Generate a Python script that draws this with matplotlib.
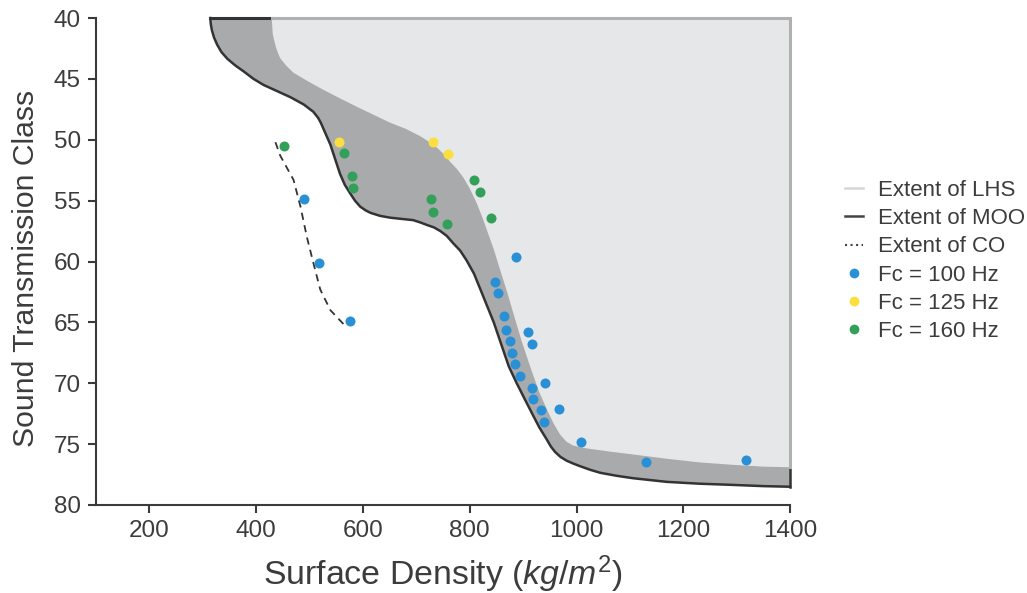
import matplotlib
matplotlib.use("Agg")
import matplotlib.pyplot as plt
from matplotlib.lines import Line2D

plt.rcParams['font.family'] = ['Liberation Sans', 'DejaVu Sans']
plt.rcParams['mathtext.fontset'] = 'custom'
plt.rcParams['mathtext.rm'] = 'Liberation Sans'
plt.rcParams['mathtext.it'] = 'Liberation Sans:italic'

# boundary of the MOO region (surface density, STC)
moo_x = [314, 315, 317, 321, 327, 335, 346, 361, 377, 395, 414, 439, 464, 489, 507, 516,
         521, 526, 532, 539, 548, 557, 566, 576, 585, 595, 605, 614, 632, 651, 672, 694,
         708, 720, 733, 745, 757, 769, 782, 794, 808, 821, 833, 845, 859, 873, 888, 903,
         917, 930, 944, 952, 960, 970, 981, 994, 1006, 1025, 1044, 1075, 1106, 1169, 1230,
         1293, 1350, 1400]
moo_y = [40.0, 40.5, 41.0, 41.6, 42.2, 42.8, 43.35, 43.9, 44.4, 45.0, 45.5, 46.0, 46.5,
         47.1, 47.7, 48.2, 48.6, 49.1, 49.7, 50.4, 51.6, 52.8, 53.7, 54.4, 55.0, 55.5,
         55.8, 56.0, 56.25, 56.4, 56.5, 56.6, 56.8, 57.0, 57.2, 57.5, 57.9, 58.5, 59.1,
         59.9, 61.0, 62.4, 63.7, 65.0, 66.8, 68.6, 70.0, 71.3, 72.5, 73.6, 74.6, 75.2,
         75.65, 76.05, 76.35, 76.6, 76.8, 77.1, 77.35, 77.6, 77.8, 78.1, 78.25, 78.35,
         78.45, 78.5]

# boundary of the LHS region
lhs_x = [429, 430, 431, 434, 437, 441, 445, 456, 470, 497, 526, 557, 589, 620, 651, 680,
         707, 725, 740, 752, 763, 776, 788, 800, 813, 823, 832, 845, 857, 870, 882, 897,
         913, 929, 944, 957, 969, 981, 993, 1006, 1019, 1060, 1106, 1169, 1230, 1293,
         1350, 1400]
lhs_y = [40.0, 40.6, 41.3, 41.9, 42.4, 42.9, 43.3, 43.9, 44.5, 45.2, 45.9, 46.6, 47.3,
         47.95, 48.6, 49.1, 49.7, 50.2, 50.7, 51.2, 51.8, 52.4, 53.1, 54.0, 55.2, 56.3,
         57.4, 59.0, 60.7, 62.5, 64.3, 66.5, 68.6, 70.6, 72.1, 73.3, 74.2, 74.8, 75.1,
         75.25, 75.35, 75.6, 75.85, 76.2, 76.5, 76.7, 76.85, 76.9]

# extent of CO
co_x = [436, 445, 470, 483, 495, 507, 520, 539, 567]
co_y = [50.2, 51.3, 53.3, 55.5, 58.0, 60.1, 62.3, 64.0, 65.3]

# measured points
fc100_x = [490, 518, 575, 887, 847, 852, 864, 868, 875, 880, 884, 894, 916, 918, 933, 940,
           910, 917, 941, 968, 1008, 1131, 1317]
fc100_y = [54.9, 60.1, 64.9, 59.6, 61.7, 62.6, 64.5, 65.6, 66.5, 67.5, 68.4, 69.4, 70.4,
           71.3, 72.2, 73.2, 65.8, 66.8, 70.0, 72.1, 74.8, 76.5, 76.3]
fc125_x = [556, 731, 760]
fc125_y = [50.2, 50.2, 51.2]
fc160_x = [453, 565, 580, 582, 728, 731, 757, 808, 819, 839]
fc160_y = [50.5, 51.1, 53.0, 54.0, 54.9, 55.9, 56.9, 53.3, 54.3, 56.4]

text_c = '#3c3c3c'
dark = '#333333'
lhs_edge = '#b0b0b0'

fig = plt.figure(figsize=(10.27, 5.93), dpi=100)
ax = fig.add_axes([0.0935, 0.1484, 0.6758, 0.8212])

# MOO region (dark gray)
ax.fill(moo_x + [1400, moo_x[0]], moo_y + [40, 40], color='#a9aaac', lw=0, zorder=1)
# LHS region (light gray)
ax.fill(lhs_x + [1400, lhs_x[0]], lhs_y + [40, 40], color='#e6e7e9', lw=0, zorder=2)

ax.plot(moo_x, moo_y, color=dark, lw=1.8, zorder=3, clip_on=False)
ax.plot([moo_x[0], lhs_x[0]], [40, 40], color=dark, lw=2.2, zorder=3, clip_on=False)
ax.plot([1400, 1400], [lhs_y[-1], moo_y[-1]], color=dark, lw=1.8, zorder=3, clip_on=False)
ax.plot([lhs_x[0], 1400, 1400], [40, 40, lhs_y[-1]], color=lhs_edge, lw=2.2, zorder=3,
        clip_on=False, solid_joinstyle='miter')

ax.plot(co_x, co_y, color=dark, lw=1.3, ls=(0, (4, 3)), zorder=3)

ms = 52
ax.scatter(fc100_x, fc100_y, s=ms, color='#2a90d6', lw=0, zorder=4)
ax.scatter(fc125_x, fc125_y, s=ms, color='#fbdf3e', lw=0, zorder=4)
ax.scatter(fc160_x, fc160_y, s=ms, color='#33a05a', lw=0, zorder=4)

ax.set_xlim(100, 1400)
ax.set_ylim(80, 40)
ax.set_xticks([200, 400, 600, 800, 1000, 1200, 1400])
ax.set_yticks([40, 45, 50, 55, 60, 65, 70, 75, 80])

for s in ['top', 'right']:
    ax.spines[s].set_visible(False)
for s in ['left', 'bottom']:
    ax.spines[s].set_color('#3a3a3a')
    ax.spines[s].set_linewidth(1.5)
ax.tick_params(axis='both', colors='#3a3a3a', labelcolor=text_c, labelsize=17.5,
               length=6, width=1.5, pad=5)

ax.set_xlabel('Surface Density ($kg/m^2$)', fontsize=24.4, color=text_c, labelpad=8)
ax.set_ylabel('Sound Transmission Class', fontsize=21.7, color=text_c, labelpad=9.5)
ax.yaxis.label.set_y(0.485)

handles = [
    Line2D([], [], color='#d6d6d6', lw=1.8),
    Line2D([], [], color='#444444', lw=1.8),
    Line2D([], [], color='#444444', lw=1.5, ls=':'),
    Line2D([], [], ls='', marker='o', ms=6, color='#2a90d6'),
    Line2D([], [], ls='', marker='o', ms=6, color='#fbdf3e'),
    Line2D([], [], ls='', marker='o', ms=6, color='#33a05a'),
]
labels = ['Extent of LHS', 'Extent of MOO', 'Extent of CO',
          'Fc = 100 Hz', 'Fc = 125 Hz', 'Fc = 160 Hz']
fig.legend(handles, labels, loc='upper left', bbox_to_anchor=(0.8228, 0.6966),
           frameon=False, fontsize=16, labelcolor=text_c, borderpad=0, borderaxespad=0,
           handlelength=0.81, handletextpad=0.68, labelspacing=0.325)

fig.savefig('out.png', dpi=100)
